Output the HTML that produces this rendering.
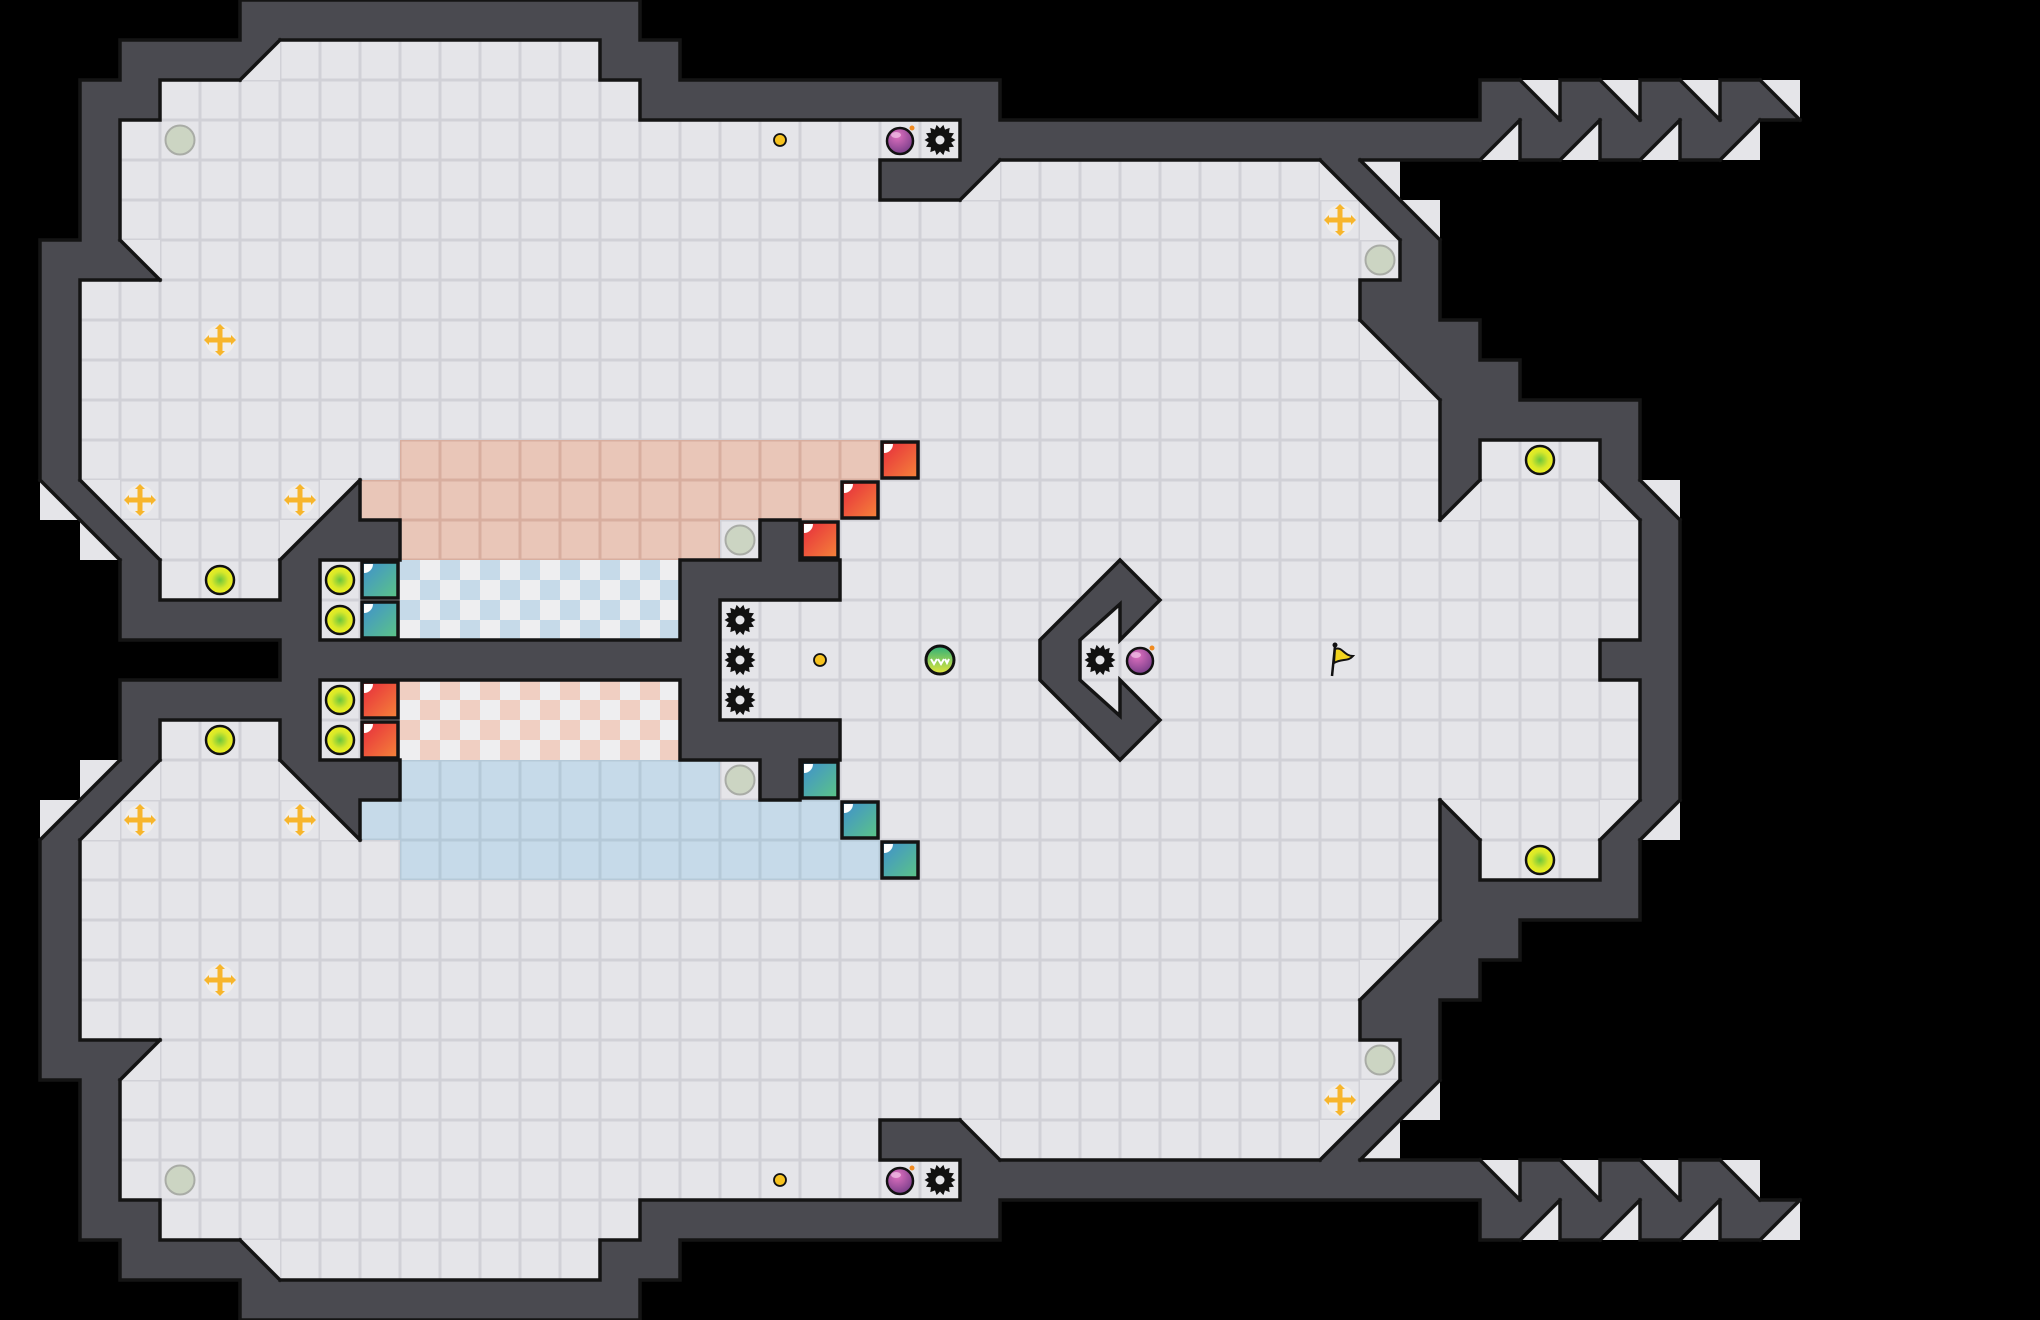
<!DOCTYPE html>
<html><head><meta charset="utf-8">
<style>html,body{margin:0;padding:0;background:#000;}svg{display:block;}</style>
</head><body>
<svg id="s" xmlns="http://www.w3.org/2000/svg" width="2040" height="1320" viewBox="0 0 2040 1320">
<defs>
<linearGradient id="gr" x1="0" y1="0" x2="1" y2="1"><stop offset="0" stop-color="#e62a3c"/><stop offset="1" stop-color="#f5853a"/></linearGradient>
<linearGradient id="gt" x1="0" y1="0" x2="1" y2="1"><stop offset="0" stop-color="#3f8fd0"/><stop offset="1" stop-color="#5cc585"/></linearGradient>
<radialGradient id="gy" cx="0.5" cy="0.5" r="0.5"><stop offset="0" stop-color="#6cc63c"/><stop offset="0.6" stop-color="#d8e82a"/><stop offset="1" stop-color="#f0f020"/></radialGradient>
<radialGradient id="gb" cx="0.4" cy="0.3" r="0.7"><stop offset="0" stop-color="#e070c0"/><stop offset="1" stop-color="#7a3f8a"/></radialGradient>
<linearGradient id="gg" x1="0" y1="0" x2="0" y2="1"><stop offset="0" stop-color="#2eb07a"/><stop offset="1" stop-color="#e6e83a"/></linearGradient>
</defs>
<rect width="2040" height="1320" fill="#000"/>
<g id="g"></g>
</svg>
<script>
(function(){
const N=51,S=40,WC='#4a4a50',FC='#e5e5e9',LC='#d1d1d7';
const top=[];for(let r=0;r<17;r++)top.push(Array(N).fill(' '));
function f(r,a,b,c){for(let i=a;i<=b;i++)top[r][i]=c;}
f(0,6,15,'#');
f(1,3,5,'#');f(1,6,6,'A');f(1,7,14,'.');f(1,15,16,'#');
f(2,2,3,'#');f(2,4,15,'.');f(2,16,24,'#');f(2,37,37,'#');f(2,38,38,'F');f(2,39,39,'#');f(2,40,40,'F');f(2,41,41,'#');f(2,42,42,'F');f(2,43,43,'#');f(2,44,44,'F');
f(3,2,2,'#');f(3,3,23,'.');f(3,24,36,'#');f(3,37,37,'A');f(3,38,38,'#');f(3,39,39,'A');f(3,40,40,'#');f(3,41,41,'A');f(3,42,42,'#');f(3,43,43,'A');
f(4,2,2,'#');f(4,3,21,'.');f(4,22,23,'#');f(4,24,24,'A');f(4,25,32,'.');f(4,33,33,'E');f(4,34,34,'F');
f(5,2,2,'#');f(5,3,33,'.');f(5,34,34,'E');f(5,35,35,'F');
f(6,1,2,'#');f(6,3,3,'F');f(6,4,34,'.');f(6,35,35,'#');
f(7,1,1,'#');f(7,2,33,'.');f(7,34,35,'#');
f(8,1,1,'#');f(8,2,33,'.');f(8,34,34,'E');f(8,35,36,'#');
f(9,1,1,'#');f(9,2,34,'.');f(9,35,35,'E');f(9,36,37,'#');
f(10,1,1,'#');f(10,2,35,'.');f(10,36,40,'#');
f(11,1,1,'#');f(11,2,35,'.');f(11,36,36,'#');f(11,37,39,'.');f(11,40,40,'#');
f(12,1,1,'E');f(12,2,2,'F');f(12,3,7,'.');f(12,8,8,'B');f(12,9,35,'.');f(12,36,36,'A');f(12,37,39,'.');f(12,40,40,'E');f(12,41,41,'F');
f(13,2,2,'E');f(13,3,3,'F');f(13,4,6,'.');f(13,7,7,'B');f(13,8,9,'#');f(13,10,18,'.');f(13,19,19,'#');f(13,20,40,'.');f(13,41,41,'#');
f(14,3,3,'#');f(14,4,6,'.');f(14,7,7,'#');f(14,8,16,'.');f(14,17,20,'#');f(14,21,40,'.');f(14,41,41,'#');
f(15,3,7,'#');f(15,8,16,'.');f(15,17,17,'#');f(15,18,40,'.');f(15,41,41,'#');
f(16,7,17,'#');f(16,18,39,'.');f(16,40,41,'#');
const mir={A:'F',F:'A',B:'E',E:'B'};
const g=[];for(let r=0;r<33;r++){g[r]=r<=16?top[r]:top[32-r].map(c=>mir[c]||c);}
function cell(c){switch(c){case '#':return{t:0,c:'W'};case '.':return{t:0,c:'F'};case 'A':return{t:1,a:'W',b:'F'};case 'B':return{t:1,a:'F',b:'W'};case 'E':return{t:2,a:'W',b:'F'};case 'F':return{t:2,a:'F',b:'W'};default:return{t:0,c:'K'};}}
function edge(c,s){if(c.t==0)return c.c;if(c.t==1)return(s=='T'||s=='L')?c.a:c.b;return(s=='T'||s=='R')?c.a:c.b;}
function get(r,c){if(r<0||r>32||c<0||c>=N)return{t:0,c:'K'};return cell(g[r][c]);}
let o='';
function col(k){return k=='W'?WC:k=='F'?FC:'#000';}
for(let r=0;r<33;r++)for(let c=0;c<N;c++){
 const x=c*S,y=r*S,k=get(r,c);
 if(k.t==0){
  if(k.c=='F'){o+=`<rect x="${x}" y="${y}" width="40" height="40" fill="${LC}"/><rect x="${x+1.5}" y="${y+1.5}" width="37" height="37" fill="${FC}"/>`;}
  else if(k.c=='W'){o+=`<rect x="${x}" y="${y}" width="40.5" height="40.5" fill="${WC}"/>`;}
 } else if(k.t==1){
  o+=`<polygon points="${x},${y} ${x+S},${y} ${x},${y+S}" fill="${col(k.a)}"/><polygon points="${x+S},${y} ${x+S},${y+S} ${x},${y+S}" fill="${col(k.b)}"/>`;
 } else {
  o+=`<polygon points="${x},${y} ${x+S},${y} ${x+S},${y+S}" fill="${col(k.a)}"/><polygon points="${x},${y} ${x+S},${y+S} ${x},${y+S}" fill="${col(k.b)}"/>`;
 }
}
// overlays
function orange(c,r){const x=c*S,y=r*S;o+=`<rect x="${x}" y="${y}" width="40" height="40" fill="#d8ae9f"/><rect x="${x+1.5}" y="${y+1.5}" width="37" height="37" fill="#e9c6b8"/>`;}
function blue(c,r){const x=c*S,y=r*S;o+=`<rect x="${x}" y="${y}" width="40" height="40" fill="#b5c9d8"/><rect x="${x+1.5}" y="${y+1.5}" width="37" height="37" fill="#c6dae9"/>`;}
function chk(c,r,col){const x=c*S,y=r*S;o+=`<rect x="${x}" y="${y}" width="40" height="40" fill="#eeeef0"/><rect x="${x}" y="${y}" width="20" height="20" fill="${col}"/><rect x="${x+20}" y="${y+20}" width="20" height="20" fill="${col}"/>`;}
for(let c=10;c<=21;c++)orange(c,11);for(let c=9;c<=20;c++)orange(c,12);for(let c=10;c<=17;c++)orange(c,13);
for(let c=10;c<=21;c++)blue(c,21);for(let c=9;c<=20;c++)blue(c,20);for(let c=10;c<=17;c++)blue(c,19);
for(let c=10;c<=16;c++){chk(c,14,'#c6dae9');chk(c,15,'#c6dae9');chk(c,17,'#f0cfc2');chk(c,18,'#f0cfc2');}
// edges
let L='';
for(let r=-1;r<33;r++)for(let c=-1;c<N;c++){
 const k=get(r,c),rt=get(r,c+1),bt=get(r+1,c);
 const x=c*S,y=r*S;
 let a=edge(k,'R'),b=edge(rt,'L');
 if(a!=b&&(a=='W'||b=='W'))L+=`M${x+S} ${y}V${y+S}`;
 a=edge(k,'B');b=edge(bt,'T');
 if(a!=b&&(a=='W'||b=='W'))L+=`M${x} ${y+S}H${x+S}`;
 if(k.t==1&&k.a!=k.b)L+=`M${x} ${y+S}L${x+S} ${y}`;
 if(k.t==2&&k.a!=k.b)L+=`M${x} ${y}L${x+S} ${y+S}`;
}
o+=`<path d="${L}" stroke="#141414" stroke-width="3.5" fill="none" stroke-linecap="square"/>`;
// C shape
const cp=[[28,14],[29,15],[28,16],[28,15.1],[27,16],[27,17],[28,17.9],[28,17],[29,18],[28,19],[26,17],[26,16]].map(p=>p[0]*S+','+p[1]*S).join(' ');
o+=`<polygon points="${cp}" fill="${WC}" stroke="#141414" stroke-width="3.5" stroke-linejoin="miter"/>`;
// wall marks
[[104,68],[75,190],[1245,688],[593,430]].forEach(()=>{});
// items
function C(c){return c*S+20;}
function grey(c,r){o+=`<circle cx="${C(c)}" cy="${C(r)}" r="14.5" fill="#ccd5c3" stroke="#a9aca6" stroke-width="2"/>`;}
function dot(c,r){o+=`<circle cx="${C(c)}" cy="${C(r)}" r="6" fill="#f6c21f" stroke="#111" stroke-width="1.8"/>`;}
function ball(c,r){o+=`<circle cx="${C(c)}" cy="${C(r)}" r="14" fill="url(#gy)" stroke="#111" stroke-width="2.5"/>`;}
function bomb(c,r){const x=C(c),y=C(r);o+=`<circle cx="${x}" cy="${y+1}" r="13" fill="url(#gb)" stroke="#111" stroke-width="2.5"/><circle cx="${x+12}" cy="${y-12}" r="2.5" fill="#f08a20"/><ellipse cx="${x-4}" cy="${y-5}" rx="5" ry="3" fill="#f4c8ea" opacity="0.7"/>`;}
function saw(c,r){const x=C(c),y=C(r);let p=[];for(let i=0;i<28;i++){const a=i*Math.PI/14,rr=i%2?11.5:15.5;p.push((x+rr*Math.cos(a)).toFixed(1)+','+(y+rr*Math.sin(a)).toFixed(1));}o+=`<polygon points="${p.join(' ')}" fill="#111"/><circle cx="${x}" cy="${y}" r="4.5" fill="#e5e5e9"/>`;}
function cross(c,r){const x=C(c),y=C(r);o+=`<circle cx="${x}" cy="${y}" r="15" fill="#f4f0ea" opacity="0.8"/><rect x="${x-13}" y="${y-2.5}" width="26" height="5" fill="#f7b52b"/><rect x="${x-2.5}" y="${y-13}" width="5" height="26" fill="#f7b52b"/><polygon points="${x-16},${y} ${x-11},${y-5} ${x-11},${y+5}" fill="#f7b52b"/><polygon points="${x+16},${y} ${x+11},${y-5} ${x+11},${y+5}" fill="#f7b52b"/><polygon points="${x},${y-16} ${x-5},${y-11} ${x+5},${y-11}" fill="#f7b52b"/><polygon points="${x},${y+16} ${x-5},${y+11} ${x+5},${y+11}" fill="#f7b52b"/>`;}
function block(c,r,gr){const x=c*S,y=r*S;o+=`<rect x="${x+2}" y="${y+2}" width="36" height="36" fill="url(#${gr})" stroke="#141414" stroke-width="3.5"/><path d="M${x+4} ${y+4}h9a9 9 0 0 1 -9 9z" fill="#fff"/>`;}
const items=[[grey,4,3],[grey,18,13],[grey,34,6],[dot,19,3],[bomb,22,3],[saw,23,3],[saw,18,15],[cross,5,8],[cross,3,12],[cross,7,12],[cross,33,5],[ball,5,14],[ball,8,14],[ball,8,15],[ball,38,11]];
items.forEach(it=>{it[0](it[1],it[2]);it[0](it[1],32-it[2]);});
block(22,11,'gr');block(21,12,'gr');block(20,13,'gr');block(9,14,'gt');block(9,15,'gt');
block(22,21,'gt');block(21,20,'gt');block(20,19,'gt');block(9,17,'gr');block(9,18,'gr');
saw(18,16);dot(20,16);saw(27,16);bomb(28,16);
{const x=C(23),y=C(16);o+=`<circle cx="${x}" cy="${y}" r="14" fill="url(#gg)" stroke="#111" stroke-width="3"/><path d="M${x-9} ${y-1}l3 5l3-5M${x-2} ${y-1}l3 5l3-5M${x+5} ${y-1}l2 4l2-4" stroke="#fff" stroke-width="2" fill="none"/>`;}
{const x=C(33),y=C(16);o+=`<path d="M${x-8} ${y+16}L${x-5} ${y-14}" stroke="#111" stroke-width="2.5"/><circle cx="${x-5}" cy="${y-15}" r="2.5" fill="#111"/><path d="M${x-5} ${y-11}C${x+2} ${y-14} ${x+4} ${y-4} ${x+13} ${y-4}C${x+8} ${y+2} ${x+2} ${y-2} ${x-6} ${y+3}Z" fill="#f2d41e" stroke="#111" stroke-width="2"/>`;}
document.getElementById('g').innerHTML=o;
})();
</script>
</body></html>
